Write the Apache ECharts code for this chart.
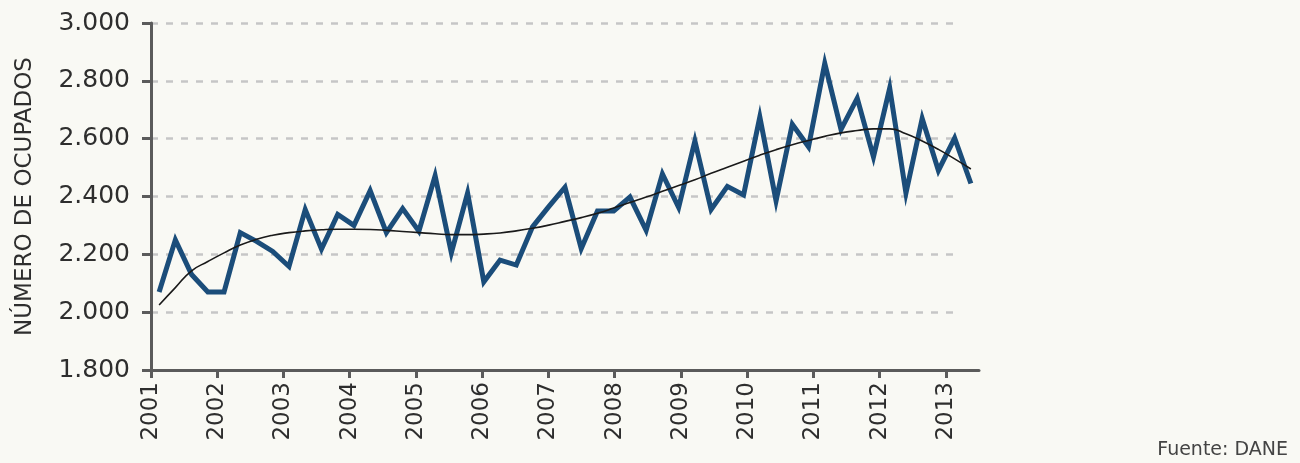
<!DOCTYPE html>
<html>
<head>
<meta charset="utf-8">
<script src="https://cdn.jsdelivr.net/npm/echarts@6/dist/echarts.min.js"></script>
<style>
html,body{margin:0;padding:0;background:#f9f9f4;}
#chart{width:1300px;height:463px;}
</style>
</head>
<body>
<div id="chart"></div>
<script>
// Periods (quarterly observations, 51 points)
const periods = [];
for (let i = 0; i < 51; i++) {
  const y = 2001 + Math.floor(i / 4);
  periods.push('T' + (i % 4 + 1) + ' ' + y);
}
const yearTicks = [2001,2002,2003,2004,2005,2006,2007,2008,2009,2010,2011,2012,2013];
const yTicks = [1800,2000,2200,2400,2600,2800,3000];

// Número de ocupados (miles)
const ocupados = [
  2070, 2250, 2130, 2070, 2070, 2275, 2245, 2210, 2158, 2355,
  2218, 2338, 2300, 2420, 2275, 2358, 2280, 2472, 2205, 2412,
  2105, 2180, 2163, 2295, 2365, 2432, 2220, 2350, 2350, 2398,
  2283, 2478, 2362, 2592, 2355, 2435, 2405, 2675, 2385, 2650,
  2572, 2860, 2632, 2740, 2537, 2775, 2412, 2670, 2490, 2602,
  2445
];

// Tendencia (línea suavizada)
const tendencia = [
  2025, 2085, 2143, 2175, 2205, 2232, 2252, 2266, 2275, 2281,
  2285, 2287, 2287, 2286, 2283, 2279, 2275, 2271, 2268, 2268,
  2270, 2274, 2281, 2290, 2301, 2314, 2327, 2342, 2360, 2379,
  2398, 2418, 2438, 2458, 2480, 2501, 2522, 2543, 2562, 2579,
  2594, 2608, 2620, 2628, 2634, 2634, 2617, 2592, 2563, 2530,
  2495
];

const FONT = 'DejaVu Sans';
const axisColor = '#5b5b5b';
const textColor = '#2e2e2e';

const chart = echarts.init(document.getElementById('chart'), null, {renderer: 'canvas'});
chart.setOption({
  backgroundColor: '#f9f9f4',
  animation: false,
  textStyle: {fontFamily: FONT},
  grid: [
    {left: 151, right: 321, top: 23, bottom: 93, containLabel: false},
    {left: 151, right: 345, top: 23, bottom: 93, containLabel: false}
  ],
  xAxis: [
    {type: 'category', gridIndex: 0, data: periods, boundaryGap: true, show: false},
    {
      type: 'value', gridIndex: 0, position: 'bottom', min: 2001, max: 2013.5, interval: 1,
      axisLine: {show: true, lineStyle: {color: axisColor, width: 3}},
      axisTick: {show: true, length: 8, customValues: yearTicks, lineStyle: {color: axisColor, width: 3}},
      axisLabel: {
        show: true, rotate: 90, margin: 12, customValues: yearTicks,
        color: textColor, fontFamily: FONT, fontSize: 23,
        formatter: v => String(v)
      },
      splitLine: {show: false}
    },
    {type: 'value', gridIndex: 1, min: 0, max: 1, show: false}
  ],
  yAxis: [
    {
      type: 'value', gridIndex: 0, min: 1800, max: 3000, interval: 200,
      name: 'NÚMERO DE OCUPADOS', nameLocation: 'middle', nameGap: 114,
      nameTextStyle: {color: textColor, fontFamily: FONT, fontSize: 23},
      axisLine: {show: true, lineStyle: {color: axisColor, width: 3}},
      axisTick: {show: true, length: 9, lineStyle: {color: axisColor, width: 3}},
      axisLabel: {
        margin: 21, color: textColor, fontFamily: FONT, fontSize: 25,
        formatter: v => String(v).replace(/\B(?=(\d{3})+(?!\d))/g, '.')
      },
      splitLine: {show: false}
    },
    {
      type: 'value', gridIndex: 1, min: 1800, max: 3000, interval: 200,
      axisLine: {show: false}, axisTick: {show: false}, axisLabel: {show: false},
      splitLine: {show: true, lineStyle: {color: '#c6c6c6', width: 2.5, type: [7, 8]}}
    }
  ],
  series: [
    {
      type: 'line', xAxisIndex: 0, yAxisIndex: 0, data: ocupados,
      showSymbol: false, symbol: 'none', z: 3,
      lineStyle: {color: '#1b4d7a', width: 5, join: 'miter', miterLimit: 10}
    },
    {
      type: 'line', xAxisIndex: 0, yAxisIndex: 0, data: tendencia,
      showSymbol: false, symbol: 'none', smooth: true, z: 4,
      lineStyle: {color: '#1a1a1a', width: 1.6}
    }
  ],
  graphic: [
    {type: 'text', right: 12, bottom: 3,
     style: {text: 'Fuente: DANE', font: '19px "DejaVu Sans"', fill: '#444444'}}
  ]
});
</script>
</body>
</html>
